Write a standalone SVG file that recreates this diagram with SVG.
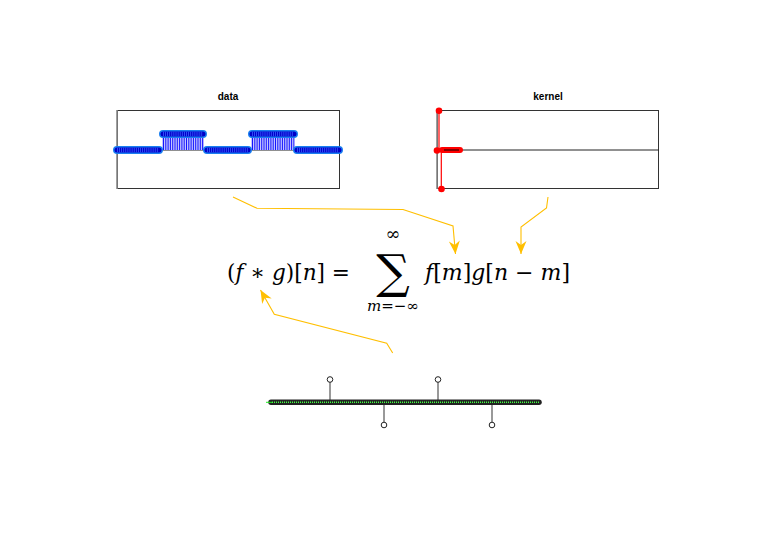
<svg xmlns="http://www.w3.org/2000/svg" width="759" height="548" viewBox="0 0 759 548">
<style>
.frame{fill:none;stroke:#333;stroke-width:1}
.spine{stroke:#888;stroke-width:1.6}
.title{font-family:"Liberation Sans",Arial,sans-serif;font-weight:bold;font-size:10px;text-anchor:middle;fill:#000}
.bandE{stroke:#1a7ff0;stroke-width:8;stroke-linecap:round;fill:none}
.bandI{stroke:#0000c8;stroke-width:5;stroke-linecap:round;fill:none}
.bandD{stroke:#3a5cff;stroke-width:4.5;stroke-dasharray:0.8 1.3;fill:none}
.stems{stroke:#1414ff;stroke-width:16;stroke-dasharray:1 1.3;fill:none}
.conn{fill:none;stroke:#ffbf00;stroke-width:1.1}
.math{font-family:"DejaVu Serif","Liberation Serif",serif;fill:#000}
.it{font-style:italic}
.stem{stroke:#555;stroke-width:1.2}
.head{fill:#fff;stroke:#222;stroke-width:1}
</style>
<defs>
<marker id="ah" markerUnits="userSpaceOnUse" markerWidth="16" markerHeight="14" viewBox="-14 -7 16 14" refX="0" refY="0" orient="auto">
<path d="M0,0 L-13,-5.5 L-9,0 L-13,5.5 Z" fill="#ffbf00"/>
</marker>
</defs>

<g id="data-plot">
<text class="title" x="228" y="100">data</text>
<rect class="frame" x="117.5" y="110.5" width="222" height="78"/>
<line class="spine" x1="117" y1="110" x2="117" y2="189"/>
<line x1="117" y1="150" x2="339" y2="150" stroke="#222" stroke-width="1"/>
<rect x="162" y="134" width="42" height="16" fill="#c4c4ff"/>
<rect x="251" y="134" width="43" height="16" fill="#c4c4ff"/>
<line class="stems" x1="163" y1="142" x2="203.5" y2="142"/>
<line class="stems" x1="252" y1="142" x2="294.5" y2="142"/>
<path class="bandE" d="M117,150 H159 M163,134 H203 M207,150 H248 M252,134 H294 M297,150 H339"/>
<path class="bandI" d="M117,150 H159 M163,134 H203 M207,150 H248 M252,134 H294 M297,150 H339"/>
<path class="bandD" d="M117,150 H159 M163,134 H203 M207,150 H248 M252,134 H294 M297,150 H339"/>
</g>

<g id="kernel-plot">
<text class="title" x="548" y="100">kernel</text>
<rect class="frame" x="437.5" y="110.5" width="221" height="78"/>
<line class="spine" x1="437" y1="110" x2="437" y2="189"/>
<line x1="437" y1="150" x2="659" y2="150" stroke="#222" stroke-width="1"/>
<line x1="439" y1="110.5" x2="439" y2="150" stroke="#f00" stroke-width="1.2"/>
<line x1="441.3" y1="150" x2="441.3" y2="189" stroke="#f00" stroke-width="1.2"/>
<line x1="442" y1="150" x2="460" y2="150" stroke="#f00" stroke-width="6" stroke-linecap="round"/>
<line x1="444" y1="150" x2="459" y2="150" stroke="#600" stroke-width="1.6"/>
<circle cx="439" cy="110.7" r="3.3" fill="#f00"/>
<circle cx="437" cy="150.5" r="3.3" fill="#f00"/>
<circle cx="441.5" cy="189" r="3.3" fill="#f00"/>
</g>

<g id="equation">
<text class="math" x="227" y="280" font-size="22" textLength="123" lengthAdjust="spacingAndGlyphs">(<tspan class="it">f</tspan> ∗ <tspan class="it">g</tspan>)[<tspan class="it">n</tspan>] =</text>
<text class="math" x="393" y="288" font-size="47" text-anchor="middle">∑</text>
<text class="math" x="393" y="240" font-size="18" text-anchor="middle">∞</text>
<text class="math" x="393" y="311" font-size="15" text-anchor="middle"><tspan class="it">m</tspan>=−∞</text>
<text class="math" x="425" y="280" font-size="22" textLength="145" lengthAdjust="spacingAndGlyphs"><tspan class="it">f</tspan>[<tspan class="it">m</tspan>]<tspan class="it">g</tspan>[<tspan class="it">n</tspan> − <tspan class="it">m</tspan>]</text>
</g>

<g id="result-plot">
<line class="stem" x1="330" y1="402" x2="330" y2="382"/>
<line class="stem" x1="384" y1="402" x2="384" y2="422"/>
<line class="stem" x1="438" y1="402" x2="438" y2="382"/>
<line class="stem" x1="492" y1="402" x2="492" y2="422"/>
<line x1="271" y1="402.3" x2="539" y2="402.3" stroke="#222" stroke-width="5.5" stroke-linecap="round"/>
<line x1="266" y1="402.3" x2="272" y2="402.3" stroke="#22ee22" stroke-width="1"/>
<line x1="272" y1="402.3" x2="539" y2="402.3" stroke="#44ff44" stroke-width="1.6" stroke-dasharray="1 1"/>
<circle class="head" cx="330" cy="379.5" r="2.8"/>
<circle class="head" cx="384" cy="425" r="2.8"/>
<circle class="head" cx="438" cy="379.5" r="2.8"/>
<circle class="head" cx="492" cy="425" r="2.8"/>
</g>

<g id="connectors">
<path class="conn" d="M233,197 L257,208.3 L403,209.5 L453,226 L455.5,254" marker-end="url(#ah)"/>
<path class="conn" d="M548,197 L546.5,208 L521,227 L521,254" marker-end="url(#ah)"/>
<path class="conn" d="M392.7,353 L386.7,343.3 L274.3,314.3 L260.5,290" marker-end="url(#ah)"/>
</g>
</svg>
